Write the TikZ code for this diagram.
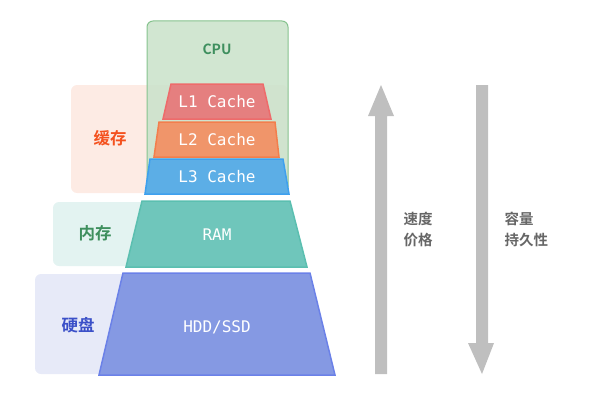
\documentclass[tikz,border=0pt]{standalone}
\usepackage{fontspec}
\setmainfont{Noto Sans CJK SC}
\newfontfamily\cjkb{Noto Sans CJK SC}[BoldFont={Noto Sans CJK SC Bold}]
\newfontfamily\mono{DejaVu Sans Mono}
\definecolor{cpuF}{HTML}{CCE3CC}
\definecolor{cpuD}{HTML}{86C38E}
\definecolor{cpuT}{HTML}{3E8F5E}
\definecolor{l1F}{HTML}{E57F7F}
\definecolor{l1D}{HTML}{EE6B6B}
\definecolor{l2F}{HTML}{F0956A}
\definecolor{l2D}{HTML}{F37E4C}
\definecolor{l3F}{HTML}{5CAEE6}
\definecolor{l3D}{HTML}{3EA0EE}
\definecolor{ramF}{HTML}{6FC6BB}
\definecolor{ramD}{HTML}{5BBFB0}
\definecolor{hddF}{HTML}{8599E3}
\definecolor{hddD}{HTML}{6B81E8}
\definecolor{cacheB}{HTML}{FDEBE4}
\definecolor{memB}{HTML}{E3F3F1}
\definecolor{diskB}{HTML}{E7EAF8}
\definecolor{cacheT}{HTML}{F4511E}
\definecolor{memT}{HTML}{3E8F5E}
\definecolor{diskT}{HTML}{3B50C8}
\definecolor{arrG}{HTML}{BFBFBF}
\definecolor{txtG}{HTML}{666666}
\tikzset{
  bgbox/.style={rounded corners=6pt},
  level/.style={line width=1.5pt, line join=miter},
  lvtext/.style={text=white, font=\mono\fontsize{16}{18}\selectfont},
  grouptext/.style={font=\cjkb\bfseries\fontsize{16.5}{18}\selectfont},
  cputext/.style={font=\cjkb\bfseries\fontsize{14}{16}\selectfont},
  sidetext/.style={text=txtG, font=\cjkb\bfseries\fontsize{14.5}{21}\selectfont, align=left, anchor=west},
}
\begin{document}
\begin{tikzpicture}[x=1pt,y=-1pt]
\useasboundingbox (0,0) rectangle (602,404);
% background group boxes
\fill[cacheB, bgbox] (71,85) rectangle (288,193);
\fill[memB, bgbox] (53,202) rectangle (288,266);
\fill[diskB, bgbox] (35,274) rectangle (288,374);
% CPU box
\draw[cpuD, fill=cpuF, fill opacity=0.9, line width=1pt, rounded corners=6pt] (147,21) rectangle (288,193);
\node[cputext, text=cpuT] (cpu) at (217,49) {CPU};
% levels
\draw[level, draw=l1D, fill=l1F] (171,84) -- (263,84) -- (271,119) -- (163,119) -- cycle;
\node[lvtext] (l1) at (217,101.5) {L1 Cache};
\draw[level, draw=l2D, fill=l2F] (159,122) -- (275,122) -- (279,157) -- (154,157) -- cycle;
\node[lvtext] (l2) at (217,139.5) {L2 Cache};
\draw[level, draw=l3D, fill=l3F] (150,159) -- (283,159) -- (289,194) -- (145,194) -- cycle;
\node[lvtext] (l3) at (217,176.5) {L3 Cache};
\draw[level, draw=ramD, fill=ramF] (142,201) -- (290,201) -- (307,267) -- (126,267) -- cycle;
\node[lvtext] (ram) at (217,235) {RAM};
\draw[level, draw=hddD, fill=hddF] (123,273) -- (310,273) -- (335,375) -- (99,375) -- cycle;
\node[lvtext] (hdd) at (217,327) {HDD/SSD};
% group labels
\node[grouptext, text=cacheT] (cache) at (110,138) {缓存};
\node[grouptext, text=memT] (mem) at (95,233) {内存};
\node[grouptext, text=diskT] (disk) at (78,325) {硬盘};
% arrows
\fill[arrG] (375,374) -- (375,116) -- (368,116) -- (381,85) -- (394,116) -- (387,116) -- (387,374) -- cycle;
\fill[arrG] (476,85) -- (488,85) -- (488,343) -- (494,343) -- (482,374) -- (468,343) -- (476,343) -- cycle;
\node[sidetext] (up) at (400,229.5) {速度\\价格};
\node[sidetext] (down) at (501,229.5) {容量\\持久性};
\end{tikzpicture}
\end{document}
